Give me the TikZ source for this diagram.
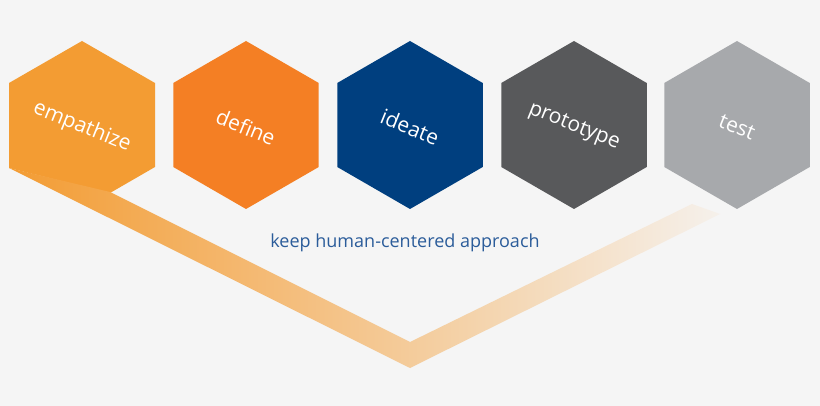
\documentclass[tikz,border=0pt]{standalone}
\usepackage{fontspec}
\setmainfont{Open Sans}
\usetikzlibrary{shapes.geometric}
\definecolor{bgc}{HTML}{F5F5F5}
\definecolor{cEmp}{HTML}{F39C33}
\definecolor{cDef}{HTML}{F47F24}
\definecolor{cIde}{HTML}{003F7F}
\definecolor{cPro}{HTML}{58595B}
\definecolor{cTes}{HTML}{A7A9AC}
\definecolor{cTxt}{HTML}{2B5C9A}
\tikzset{
  hexa/.style={regular polygon,regular polygon sides=6,shape border rotate=30,minimum size=168pt,inner sep=0pt,fill=#1},
  hexlabel/.style={text=white,font=\fontsize{21}{21}\selectfont,rotate=-22}
}
\begin{document}
\begin{tikzpicture}[x=1pt,y=-1pt]
	\fill[bgc] (0,0) rectangle (820,406); %background
	\useasboundingbox (0,0) rectangle (820,406);

	%hexagons
	\foreach \nm/\c/\x in {def/cDef/246,ide/cIde/410,pro/cPro/574,tes/cTes/737}
		\node[hexa=\c] (\nm) at (\x,125) {};
	\node[hexa=none] (emp) at (82,125) {};
	\fill[cEmp] (82,41) -- (155,83) -- (155,167) -- (110,193) -- (9,168) -- (9,83) -- cycle; %cut hexagon

	%band
	\shade[left color=cEmp,right color=bgc!95!cEmp] (9,168) -- (410,368) -- (720,214) -- (692,204) -- (410,342) -- (110,192) -- cycle;

	%labels
	\node[hexlabel] at ([yshift=-2pt]emp) {empathize};
	\node[hexlabel] at ([yshift=-2pt]def) {define};
	\node[hexlabel] at ([yshift=-2pt]ide) {ideate};
	\node[hexlabel] at ([yshift=-2pt]pro) {prototype};
	\node[hexlabel] at ([yshift=-2pt]tes) {test};

	\node[text=cTxt,font=\fontsize{18}{18}\selectfont] (keep) at (405,243) {keep human-centered approach};
\end{tikzpicture}
\end{document}
